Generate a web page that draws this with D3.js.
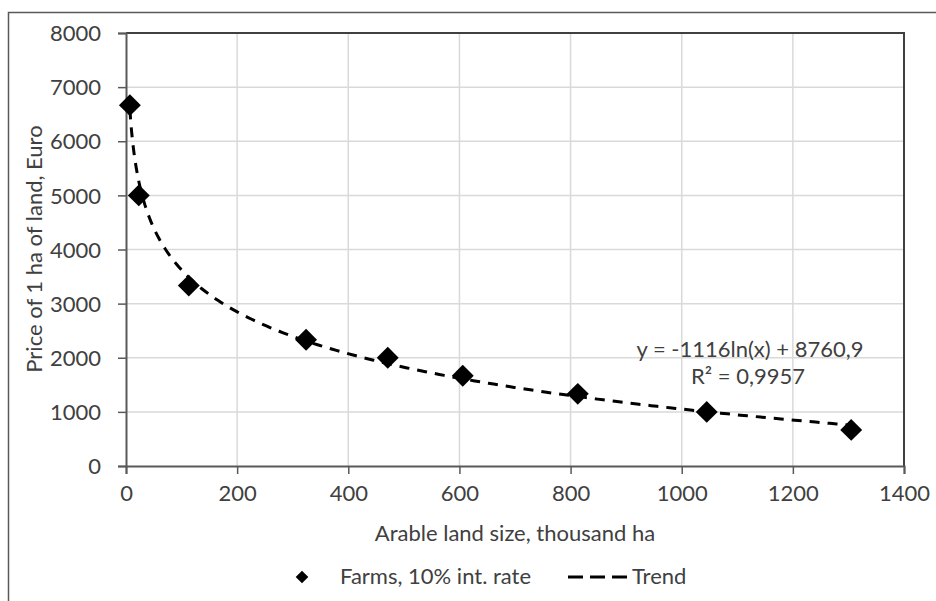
<!DOCTYPE html>
<html><head><meta charset="utf-8">
<script src="https://cdn.jsdelivr.net/npm/d3@7/dist/d3.min.js"></script>
<style>body{margin:0;background:#fff}svg{display:block}text{font-family:Lato,"Open Sans",sans-serif;fill:#404040}</style>
</head><body>
<svg id="c" width="936" height="601"></svg>
<script>
const landSize = [7, 23, 113, 324, 471, 606, 813, 1045, 1305];
const price = [6667, 5000, 3333, 2333, 2000, 1667, 1333, 1000, 667];
const xTicks = [0, 200, 400, 600, 800, 1000, 1200, 1400];
const yTicks = [0, 1000, 2000, 3000, 4000, 5000, 6000, 7000, 8000];
const trendA = -1116, trendB = 8760.9;
const seriesName = "Farms, 10% int. rate";
const trendName = "Trend";

const FS = "22px";
const svg = d3.select("#c");
const m = {l:126, r:904, t:33, b:466};
const x = d3.scaleLinear().domain([0,1400]).range([m.l,m.r]);
const y = d3.scaleLinear().domain([0,8000]).range([m.b,m.t]);

// outer frame
svg.append("path").attr("d","M8.5,601 V12.5 H936").attr("fill","none").attr("stroke","#595959").attr("stroke-width",1.5);

// grid
svg.append("g").selectAll("line").data(xTicks.slice(1,-1)).join("line")
  .attr("x1",d=>x(d)).attr("x2",d=>x(d)).attr("y1",m.t).attr("y2",m.b)
  .attr("stroke","#d9d9d9").attr("stroke-width",1.5);
svg.append("g").selectAll("line").data(yTicks.slice(1,-1)).join("line")
  .attr("x1",m.l).attr("x2",m.r).attr("y1",d=>y(d)).attr("y2",d=>y(d))
  .attr("stroke","#d9d9d9").attr("stroke-width",1.5);

// plot border top & right
svg.append("path").attr("d",`M${m.l},${m.t} H${m.r} V${m.b}`).attr("fill","none").attr("stroke","#404040").attr("stroke-width",2);

// axes
const xa = svg.append("g").attr("transform",`translate(0,${m.b})`)
  .call(d3.axisBottom(x).tickValues(xTicks).tickSize(8).tickPadding(8).tickFormat(d3.format("d")));
const ya = svg.append("g").attr("transform",`translate(${m.l},0)`)
  .call(d3.axisLeft(y).tickValues(yTicks).tickSize(8).tickPadding(17).tickFormat(d3.format("d")));
[xa,ya].forEach(a=>{
  a.select(".domain").attr("stroke","#595959").attr("stroke-width",2);
  a.selectAll(".tick line").attr("stroke","#595959").attr("stroke-width",1.5);
  a.selectAll(".tick text").style("font-size",FS).style("font-family","Lato,sans-serif").attr("fill","#404040");
});
ya.selectAll(".tick text").attr("dy","0.35em");
xa.selectAll(".tick text").attr("y",0).attr("dy",0).attr("transform","translate(0,35)");

// trend
const tx = d3.range(0,201).map(i=>landSize[0]+(landSize[landSize.length-1]-landSize[0])*Math.pow(i/200,2));
svg.append("path").datum(tx)
  .attr("d",d3.line().x(d=>x(d)).y(d=>y(trendA*Math.log(d)+trendB)))
  .attr("fill","none").attr("stroke","#000").attr("stroke-width",3).attr("stroke-dasharray","10,8");

// points
svg.append("g").selectAll("path").data(landSize).join("path")
  .attr("transform",(d,i)=>`translate(${x(d)},${y(price[i])}) rotate(45)`)
  .attr("d",d3.symbol().type(d3.symbolSquare).size(240)).attr("fill","#000");

// equation
svg.append("text").attr("x",750).attr("y",357).attr("text-anchor","middle").style("font-size",FS).text("y = -1116ln(x) + 8760,9");
svg.append("text").attr("x",748).attr("y",384).attr("text-anchor","middle").style("font-size",FS).text("R² = 0,9957");

// axis titles
svg.append("text").attr("x",515).attr("y",541).attr("text-anchor","middle").style("font-size",FS).text("Arable land size, thousand ha");
svg.append("text").attr("transform","translate(42,249) rotate(-90)").attr("text-anchor","middle").style("font-size",FS).text("Price of 1 ha of land, Euro");

// legend
svg.append("path").attr("transform","translate(302,577) rotate(45)").attr("d",d3.symbol().type(d3.symbolSquare).size(80)).attr("fill","#000");
svg.append("text").attr("x",340).attr("y",584).style("font-size",FS).text(seriesName);
svg.append("line").attr("x1",568).attr("x2",627).attr("y1",577).attr("y2",577).attr("stroke","#000").attr("stroke-width",3).attr("stroke-dasharray","15,7");
svg.append("text").attr("x",632).attr("y",584).style("font-size",FS).text(trendName);
</script>
</body></html>
